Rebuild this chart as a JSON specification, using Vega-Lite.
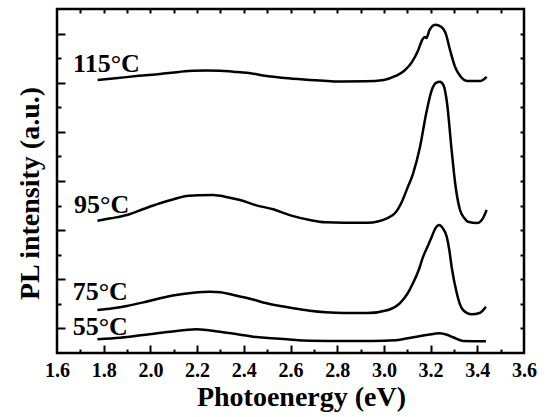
{
  "$schema": "https://vega.github.io/schema/vega-lite/v6.json",
  "width": 467,
  "height": 344,
  "autosize": "none",
  "padding": {"left": 57, "top": 9, "right": 22, "bottom": 64},
  "background": "white",
  "config": {
    "view": {"stroke": "black", "strokeWidth": 2.5},
    "font": "Liberation Serif"
  },
  "datasets": {
    "spectra": [
      {"series": "115", "E": 1.774, "I": 5.556}, {"series": "115", "E": 1.85, "I": 5.59}, {"series": "115", "E": 1.95, "I": 5.64}, {"series": "115", "E": 2.041, "I": 5.678}, {"series": "115", "E": 2.12, "I": 5.72}, {"series": "115", "E": 2.184, "I": 5.745}, {"series": "115", "E": 2.24, "I": 5.75}, {"series": "115", "E": 2.298, "I": 5.745}, {"series": "115", "E": 2.355, "I": 5.725}, {"series": "115", "E": 2.412, "I": 5.704}, {"series": "115", "E": 2.498, "I": 5.637}, {"series": "115", "E": 2.59, "I": 5.59}, {"series": "115", "E": 2.683, "I": 5.556}, {"series": "115", "E": 2.76, "I": 5.535}, {"series": "115", "E": 2.82, "I": 5.525}, {"series": "115", "E": 2.92, "I": 5.529}, {"series": "115", "E": 3.0, "I": 5.556}, {"series": "115", "E": 3.05, "I": 5.637}, {"series": "115", "E": 3.086, "I": 5.739}, {"series": "115", "E": 3.12, "I": 5.92}, {"series": "115", "E": 3.146, "I": 6.15}, {"series": "115", "E": 3.165, "I": 6.38}, {"series": "115", "E": 3.175, "I": 6.43}, {"series": "115", "E": 3.182, "I": 6.41}, {"series": "115", "E": 3.195, "I": 6.57}, {"series": "115", "E": 3.22, "I": 6.68}, {"series": "115", "E": 3.245, "I": 6.64}, {"series": "115", "E": 3.265, "I": 6.5}, {"series": "115", "E": 3.283, "I": 6.17}, {"series": "115", "E": 3.305, "I": 5.82}, {"series": "115", "E": 3.326, "I": 5.64}, {"series": "115", "E": 3.356, "I": 5.535}, {"series": "115", "E": 3.414, "I": 5.535}, {"series": "115", "E": 3.44, "I": 5.617},
      {"series": "95", "E": 1.773, "I": 2.692}, {"series": "95", "E": 1.83, "I": 2.74}, {"series": "95", "E": 1.899, "I": 2.808}, {"series": "95", "E": 1.97, "I": 2.93}, {"series": "95", "E": 2.041, "I": 3.046}, {"series": "95", "E": 2.1, "I": 3.13}, {"series": "95", "E": 2.155, "I": 3.195}, {"series": "95", "E": 2.21, "I": 3.21}, {"series": "95", "E": 2.269, "I": 3.215}, {"series": "95", "E": 2.33, "I": 3.17}, {"series": "95", "E": 2.384, "I": 3.113}, {"series": "95", "E": 2.45, "I": 3.01}, {"series": "95", "E": 2.526, "I": 2.924}, {"series": "95", "E": 2.6, "I": 2.8}, {"series": "95", "E": 2.683, "I": 2.706}, {"series": "95", "E": 2.75, "I": 2.66}, {"series": "95", "E": 2.83, "I": 2.65}, {"series": "95", "E": 2.93, "I": 2.65}, {"series": "95", "E": 3.018, "I": 2.75}, {"series": "95", "E": 3.05, "I": 2.86}, {"series": "95", "E": 3.08, "I": 3.11}, {"series": "95", "E": 3.1, "I": 3.35}, {"series": "95", "E": 3.125, "I": 3.65}, {"series": "95", "E": 3.155, "I": 4.2}, {"series": "95", "E": 3.18, "I": 4.85}, {"series": "95", "E": 3.205, "I": 5.35}, {"series": "95", "E": 3.225, "I": 5.5}, {"series": "95", "E": 3.24, "I": 5.52}, {"series": "95", "E": 3.255, "I": 5.45}, {"series": "95", "E": 3.27, "I": 5.1}, {"series": "95", "E": 3.29, "I": 4.13}, {"series": "95", "E": 3.305, "I": 3.46}, {"series": "95", "E": 3.326, "I": 2.91}, {"series": "95", "E": 3.345, "I": 2.74}, {"series": "95", "E": 3.36, "I": 2.67}, {"series": "95", "E": 3.4, "I": 2.645}, {"series": "95", "E": 3.425, "I": 2.75}, {"series": "95", "E": 3.44, "I": 2.91},
      {"series": "75", "E": 1.773, "I": 0.875}, {"series": "75", "E": 1.84, "I": 0.91}, {"series": "75", "E": 1.899, "I": 0.956}, {"series": "75", "E": 1.97, "I": 1.03}, {"series": "75", "E": 2.041, "I": 1.113}, {"series": "75", "E": 2.11, "I": 1.18}, {"series": "75", "E": 2.184, "I": 1.227}, {"series": "75", "E": 2.255, "I": 1.248}, {"series": "75", "E": 2.3, "I": 1.235}, {"series": "75", "E": 2.355, "I": 1.18}, {"series": "75", "E": 2.43, "I": 1.1}, {"series": "75", "E": 2.498, "I": 1.011}, {"series": "75", "E": 2.55, "I": 0.96}, {"series": "75", "E": 2.612, "I": 0.91}, {"series": "75", "E": 2.683, "I": 0.861}, {"series": "75", "E": 2.75, "I": 0.83}, {"series": "75", "E": 2.83, "I": 0.814}, {"series": "75", "E": 2.93, "I": 0.814}, {"series": "75", "E": 3.018, "I": 0.875}, {"series": "75", "E": 3.069, "I": 1.017}, {"series": "75", "E": 3.1, "I": 1.2}, {"series": "75", "E": 3.125, "I": 1.424}, {"series": "75", "E": 3.15, "I": 1.7}, {"series": "75", "E": 3.168, "I": 1.96}, {"series": "75", "E": 3.19, "I": 2.2}, {"series": "75", "E": 3.205, "I": 2.367}, {"series": "75", "E": 3.222, "I": 2.55}, {"series": "75", "E": 3.237, "I": 2.605}, {"series": "75", "E": 3.252, "I": 2.54}, {"series": "75", "E": 3.269, "I": 2.367}, {"series": "75", "E": 3.28, "I": 2.1}, {"series": "75", "E": 3.29, "I": 1.756}, {"series": "75", "E": 3.312, "I": 1.221}, {"series": "75", "E": 3.325, "I": 1.0}, {"series": "75", "E": 3.339, "I": 0.875}, {"series": "75", "E": 3.376, "I": 0.788}, {"series": "75", "E": 3.41, "I": 0.814}, {"series": "75", "E": 3.437, "I": 0.942},
      {"series": "55", "E": 1.773, "I": 0.279}, {"series": "55", "E": 1.87, "I": 0.31}, {"series": "55", "E": 1.97, "I": 0.366}, {"series": "55", "E": 2.084, "I": 0.434}, {"series": "55", "E": 2.198, "I": 0.482}, {"series": "55", "E": 2.298, "I": 0.434}, {"series": "55", "E": 2.441, "I": 0.332}, {"series": "55", "E": 2.584, "I": 0.279}, {"series": "55", "E": 2.683, "I": 0.25}, {"series": "55", "E": 2.8, "I": 0.245}, {"series": "55", "E": 2.95, "I": 0.245}, {"series": "55", "E": 3.05, "I": 0.26}, {"series": "55", "E": 3.14, "I": 0.332}, {"series": "55", "E": 3.19, "I": 0.37}, {"series": "55", "E": 3.237, "I": 0.4}, {"series": "55", "E": 3.27, "I": 0.37}, {"series": "55", "E": 3.296, "I": 0.32}, {"series": "55", "E": 3.339, "I": 0.244}, {"series": "55", "E": 3.437, "I": 0.238}
    ],
    "labels": [
      {"label": "115°C", "E": 1.669, "I": 5.72},
      {"label": "95°C", "E": 1.673, "I": 2.855},
      {"label": "75°C", "E": 1.667, "I": 1.087},
      {"label": "55°C", "E": 1.667, "I": 0.374}
    ]
  },
  "data": {"name": "spectra"},
  "resolve": {"axis": {"x": "independent", "y": "independent"}},
  "layer": [
    {
      "mark": {"type": "line", "color": "black", "strokeWidth": 2.5, "interpolate": "monotone"},
      "encoding": {
        "x": {"field": "E", "type": "quantitative",
          "scale": {"domain": [1.6, 3.6], "nice": false, "zero": false},
          "axis": {"orient": "bottom", "values": [1.6, 1.8, 2.0, 2.2, 2.4, 2.6, 2.8, 3.0, 3.2, 3.4, 3.6],
            "format": ".1f", "ticks": false, "domain": false, "grid": false, "labelFlush": false,
            "labelPadding": 23, "labelBaseline": "alphabetic",
            "labelFont": "Liberation Serif", "labelFontSize": 20, "labelFontWeight": "bold", "labelColor": "black",
            "title": "Photoenergy (eV)", "titleFont": "Liberation Serif", "titleFontSize": 28, "titleFontWeight": "bold",
            "titleColor": "black", "titleX": 244, "titleY": 52, "titleBaseline": "alphabetic"}},
        "y": {"field": "I", "type": "quantitative",
          "scale": {"domain": [0, 7], "nice": false, "zero": false},
          "axis": {"orient": "left", "ticks": false, "labels": false, "domain": false, "grid": false,
            "title": "PL intensity (a.u.)", "titleFont": "Liberation Serif", "titleFontSize": 28, "titleFontWeight": "bold",
            "titleColor": "black", "titleX": -19, "titleY": 184, "titleBaseline": "alphabetic"}},
        "detail": {"field": "series", "type": "nominal"}
      }
    },
    {
      "mark": {"type": "line", "strokeOpacity": 0},
      "encoding": {
        "x": {"field": "E", "type": "quantitative",
          "axis": {"orient": "bottom", "values": [1.7, 1.8, 1.9, 2.0, 2.1, 2.2, 2.3, 2.4, 2.5, 2.6, 2.7, 2.8, 2.9, 3.0, 3.1, 3.2, 3.3, 3.4, 3.5],
            "labels": false, "domain": false, "grid": false, "title": null, "tickColor": "black", "tickWidth": 2,
            "tickSize": {"condition": {"test": "round(datum.value*10) % 2 == 0", "value": -8}, "value": -4}}},
        "y": {"field": "I", "type": "quantitative",
          "axis": {"orient": "left", "values": [0.5, 1, 1.5, 2, 2.5, 3, 3.5, 4, 4.5, 5, 5.5, 6, 6.5],
            "labels": false, "domain": false, "grid": false, "title": null, "tickColor": "black", "tickWidth": 2,
            "tickSize": {"condition": {"test": "round(datum.value*2) % 2 == 1", "value": -8}, "value": -4}}},
        "detail": {"field": "series", "type": "nominal"}
      }
    },
    {
      "mark": {"type": "line", "strokeOpacity": 0},
      "encoding": {
        "x": {"field": "E", "type": "quantitative",
          "axis": {"orient": "top", "values": [1.7, 1.8, 1.9, 2.0, 2.1, 2.2, 2.3, 2.4, 2.5, 2.6, 2.7, 2.8, 2.9, 3.0, 3.1, 3.2, 3.3, 3.4, 3.5],
            "labels": false, "domain": false, "grid": false, "title": null, "tickColor": "black", "tickWidth": 2, "tickSize": -4}},
        "y": {"field": "I", "type": "quantitative",
          "axis": {"orient": "right", "values": [0.5, 1, 1.5, 2, 2.5, 3, 3.5, 4, 4.5, 5, 5.5, 6, 6.5],
            "labels": false, "domain": false, "grid": false, "title": null, "tickColor": "black", "tickWidth": 2, "tickSize": -4}},
        "detail": {"field": "series", "type": "nominal"}
      }
    },
    {
      "data": {"name": "labels"},
      "mark": {"type": "text", "align": "left", "baseline": "alphabetic", "font": "Liberation Serif", "fontSize": 26, "fontWeight": "bold", "color": "black"},
      "encoding": {
        "x": {"field": "E", "type": "quantitative", "axis": null},
        "y": {"field": "I", "type": "quantitative", "axis": null},
        "text": {"field": "label", "type": "nominal"}
      }
    }
  ]
}
